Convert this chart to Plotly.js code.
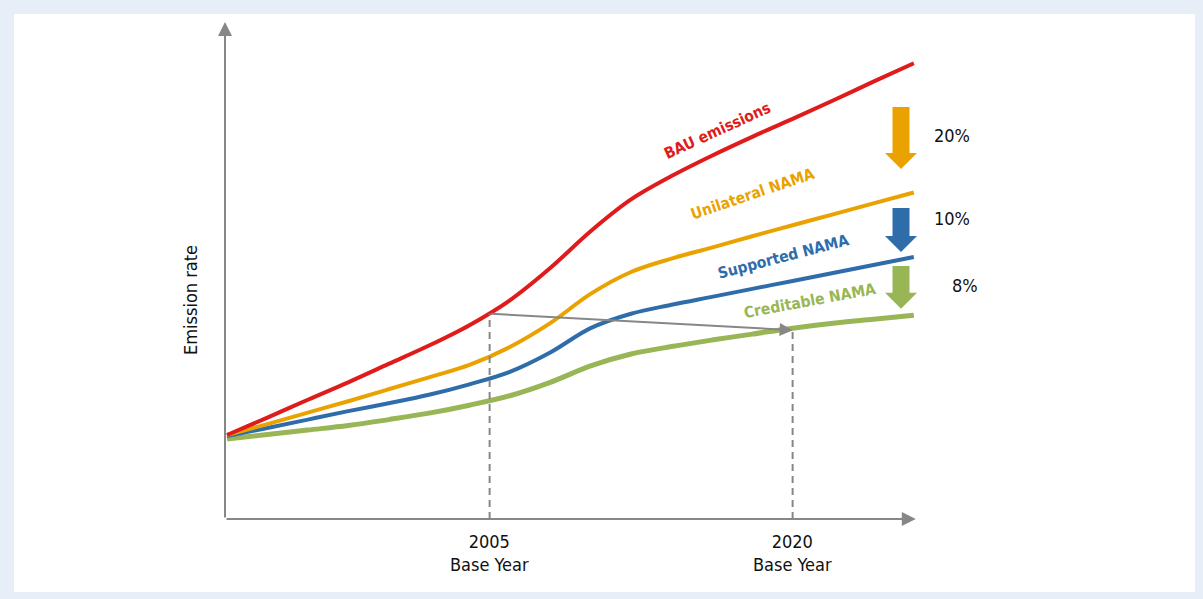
<!DOCTYPE html>
<html><head><meta charset="utf-8">
<script src="https://cdn.plot.ly/plotly-3.0.1.min.js"></script>
<style>
html,body{margin:0;padding:0;background:#e8eef7;width:1203px;height:599px;overflow:hidden}
#chart{position:absolute;left:14px;top:14px;width:1181px;height:578px;background:#fff}
</style></head><body><div id="chart"></div>
<script>
// ---- data ----
const years      = [1992,1994,1996,1998,2000,2002,2004,2006,2008,2010,2012,2014,2016,2018,2020,2022,2024,2026];
const bau        = [16.9,20.4,24.0,27.5,31.2,34.9,39.0,44.0,50.5,57.9,64.3,69.0,73.1,76.9,80.5,84.2,88.0,91.7];
const unilateral = [16.9,19.1,21.4,23.7,26.1,28.5,31.0,34.6,39.4,45.3,49.7,52.4,54.6,56.9,59.1,61.3,63.5,65.7];
const supported  = [16.7,18.3,20.0,21.7,23.3,25.0,27.1,29.6,33.5,38.4,41.3,43.1,44.7,46.3,47.9,49.5,51.1,52.7];
const creditable = [16.1,17.0,17.9,18.8,20.0,21.3,22.9,24.8,27.5,30.8,33.2,34.7,36.0,37.2,38.4,39.4,40.2,41.0];
const seriesNames = ["BAU emissions","Unilateral NAMA","Supported NAMA","Creditable NAMA"];
const baseYears = [2005, 2020];
const baseYearLabels = ["2005<br>Base Year","2020<br>Base Year"];
const baseYearLevels = [41.3, 38.4];   // dashed guide tops
const shiftArrowEnd = 38.0;            // gray arrow tip at 2020
const reductionLabels = ["20%","10%","8%"];
const reductionTop = [82.9, 62.6, 50.9];
const reductionTip = [70.4, 53.7, 42.3];
const yAxisTitle = "Emission rate";

// ---- styling ----
const FONT = "'DejaVu Sans Condensed','Liberation Sans Narrow',sans-serif";
const colors = ["#e01b1b","#e9a200","#2f6caa","#98b656"];
const widths = [4,4,4,5];
const GRAY = "#878787";
const X0 = 1991.9, X1 = 2026.9;
const PL = 225, PB = 519, PW = 707, PH = 497;  // plot box in page pixels
const pxPerYear = PW/(X1-X0), pxPerUnit = PH/100;
const px2paperX = p => (p-PL)/PW, px2paperY = p => (PB-p)/PH;

const allSeries = [bau, unilateral, supported, creditable];
const order = [3,2,1,0];
const traces = order.map(i => ({
  type:"scatter", mode:"lines", x:years, y:allSeries[i], name:seriesNames[i],
  line:{color:colors[i], width:widths[i], shape:"spline", smoothing:1},
  hoverinfo:"skip"
}));

const shapes = [];
baseYears.forEach((yr,k)=>{
  shapes.push({type:"line", xref:"x", yref:"y", x0:yr, x1:yr, y0:0, y1:baseYearLevels[k],
    line:{color:GRAY, width:2, dash:"7px,5px"}});
});
const arrowX = X0 + (901-PL)/pxPerYear;
const shaftHalf = 8.5/pxPerYear, headHalf = 16/pxPerYear, headLen = 16/pxPerUnit;
reductionLabels.forEach((lab,k)=>{
  const t = reductionTop[k], tip = reductionTip[k], hs = tip + headLen;
  const p = `M ${arrowX-shaftHalf},${t} L ${arrowX+shaftHalf},${t} L ${arrowX+shaftHalf},${hs} L ${arrowX+headHalf},${hs} L ${arrowX},${tip} L ${arrowX-headHalf},${hs} L ${arrowX-shaftHalf},${hs} Z`;
  shapes.push({type:"path", xref:"x", yref:"y", path:p, fillcolor:colors[k+1], line:{width:0}});
});

const annotations = [];
annotations.push({x:2026.1, y:0, ax:X0, ay:0, xref:"x", yref:"y", axref:"x", ayref:"y",
  text:"", showarrow:true, arrowhead:2, arrowsize:1.4, arrowwidth:2, arrowcolor:GRAY, standoff:0});
annotations.push({x:X0, y:100, ax:X0, ay:0, xref:"x", yref:"y", axref:"x", ayref:"y",
  text:"", showarrow:true, arrowhead:2, arrowsize:1.4, arrowwidth:2, arrowcolor:GRAY, standoff:0});
annotations.push({x:baseYears[1], y:shiftArrowEnd, ax:baseYears[0], ay:baseYearLevels[0],
  xref:"x", yref:"y", axref:"x", ayref:"y", text:"", showarrow:true, arrowhead:2,
  arrowsize:1.3, arrowwidth:2, arrowcolor:GRAY, standoff:0});
baseYears.forEach((yr,k)=>{
  annotations.push({x:yr, y:0, xref:"x", yref:"paper", xanchor:"center", yanchor:"top", yshift:-10, showarrow:false,
    text:baseYearLabels[k], font:{family:FONT, size:18, color:"#111"}, align:"center"});
});
annotations.push({x:px2paperX(190), y:px2paperY(300), xref:"paper", yref:"paper",
  xanchor:"center", yanchor:"middle",
  text:yAxisTitle, textangle:-90, showarrow:false, font:{family:FONT, size:18, color:"#111"}});
const labelPos = [[717,131,-24.5],[753,194,-18.8],[783,257,-14.6],[810,301,-10.5]];
labelPos.forEach((p,i)=>{
  annotations.push({x:px2paperX(p[0]), y:px2paperY(p[1]), xref:"paper", yref:"paper",
    xanchor:"center", yanchor:"middle",
    text:"<b>"+seriesNames[i]+"</b>", textangle:p[2], showarrow:false,
    font:{family:FONT, size:15.5, color:colors[i]}});
});
const redPos = [[952,135],[952,218],[965,286]];
reductionLabels.forEach((lab,k)=>{
  annotations.push({x:px2paperX(redPos[k][0]), y:px2paperY(redPos[k][1]), xref:"paper", yref:"paper",
    xanchor:"center", yanchor:"middle",
    text:lab, showarrow:false, font:{family:FONT, size:18, color:"#111"}});
});

const layout = {
  width:1181, height:578,
  margin:{l:PL-14, r:1181-(PL-14)-PW, t:(PB-PH)-14, b:578-((PB-PH)-14)-PH},
  paper_bgcolor:"#ffffff", plot_bgcolor:"rgba(0,0,0,0)",
  showlegend:false,
  xaxis:{range:[X0,X1], visible:false, fixedrange:true},
  yaxis:{range:[0,100], visible:false, fixedrange:true},
  shapes:shapes, annotations:annotations,
  font:{family:FONT}
};
Plotly.newPlot("chart", traces, layout, {displayModeBar:false, staticPlot:true});
</script></body></html>
